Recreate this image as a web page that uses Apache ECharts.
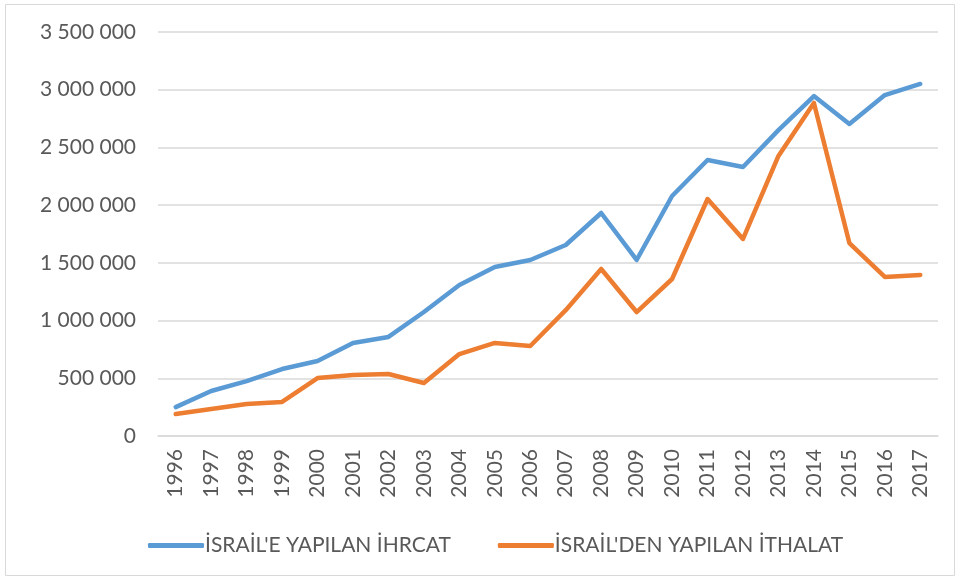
<!DOCTYPE html>
<html><head><meta charset="utf-8">
<script src="https://cdn.jsdelivr.net/npm/echarts@6/dist/echarts.min.js"></script>
<style>html,body{margin:0;padding:0;background:#fff}#c{width:960px;height:580px}</style>
</head><body><div id="c"></div>
<script>
const years = ['1996','1997','1998','1999','2000','2001','2002','2003','2004','2005','2006','2007','2008','2009','2010','2011','2012','2013','2014','2015','2016','2017'];
const exportName = "İSRAİL'E YAPILAN İHRCAT";
const importName = "İSRAİL'DEN YAPILAN İTHALAT";
const exportsToIsrael = [250000,390000,476000,580000,650000,806000,858000,1074000,1308000,1464000,1525000,1655000,1932000,1525000,2079000,2391000,2330000,2650000,2945000,2703000,2954000,3050000];
const importsFromIsrael = [190000,234000,277000,295000,502000,528000,537000,459000,710000,806000,780000,1090000,1447000,1074000,1360000,2053000,1707000,2426000,2885000,1672000,1378000,1395000];

const font = 'Lato, sans-serif';
const chart = echarts.init(document.getElementById('c'), null, {renderer:'canvas'});
chart.setOption({
  animation:false,
  backgroundColor:'#fff',
  graphic:[{type:'rect',shape:{x:5.5,y:4.5,width:949,height:571},style:{fill:'none',stroke:'#D9D9D9',lineWidth:1}}],
  grid:{left:158,top:32,width:780,height:404,containLabel:false},
  legend:{
    top:530,left:143,
    itemWidth:56,itemHeight:5,itemGap:47,
    icon:'roundRect',
    textStyle:{color:'#595959',fontSize:21,fontFamily:font,padding:[0,0,0,-4]},
    data:[exportName,importName]
  },
  xAxis:{
    type:'category',data:years,boundaryGap:true,
    axisLine:{lineStyle:{color:'#D9D9D9',width:1.5}},
    axisTick:{show:false},
    axisLabel:{rotate:90,color:'#595959',fontSize:21,fontFamily:font,margin:13}
  },
  yAxis:{
    type:'value',min:0,max:3500000,interval:500000,
    axisLine:{show:false},axisTick:{show:false},
    splitLine:{lineStyle:{color:'#D9D9D9',width:1.5}},
    axisLabel:{color:'#595959',fontSize:21,fontFamily:font,margin:22,
      formatter:v=>String(v).replace(/\B(?=(\d{3})+(?!\d))/g,' ')}
  },
  series:[
    {name:exportName,type:'line',data:exportsToIsrael,symbol:'none',lineStyle:{color:'#5B9BD5',width:4.5,cap:'round',join:'round'},itemStyle:{color:'#5B9BD5'}},
    {name:importName,type:'line',data:importsFromIsrael,symbol:'none',lineStyle:{color:'#ED7D31',width:4.5,cap:'round',join:'round'},itemStyle:{color:'#ED7D31'}}
  ]
});
</script></body></html>
